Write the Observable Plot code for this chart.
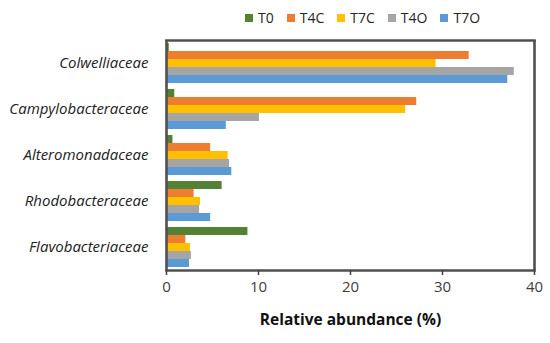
<!DOCTYPE html>
<html>
<head>
<meta charset="utf-8">
<script src="https://cdn.jsdelivr.net/npm/d3@7"></script>
<script src="https://cdn.jsdelivr.net/npm/@observablehq/plot@0.6"></script>
<style>
  html, body { margin: 0; padding: 0; background: #fff; overflow: hidden; }
  body { width: 550px; height: 343px; font-family: "Open Sans", sans-serif; }
  #legend { display: flex; align-items: center; box-sizing: border-box; height: 30px; padding-top: 5px; padding-left: 245px; gap: 13px; font-size: 14px; color: #262626; }
  #legend .item { display: flex; align-items: center; gap: 5px; }
  #legend .sw { width: 8px; height: 8px; display: inline-block; }
</style>
</head>
<body>
<div id="legend"></div>
<div id="chart"></div>
<script>
const families = ["Colwelliaceae", "Campylobacteraceae", "Alteromonadaceae", "Rhodobacteraceae", "Flavobacteriaceae"];
const series = ["T0", "T4C", "T7C", "T4O", "T7O"];
const colors = ["#548235", "#ED7D31", "#FFC000", "#A5A5A5", "#5B9BD5"];
const T0  = [0.3, 0.9, 0.7, 6.05, 8.85];
const T4C = [32.9, 27.2, 4.8, 3.0, 2.1];
const T7C = [29.3, 26.0, 6.7, 3.7, 2.6];
const T4O = [37.8, 10.1, 6.85, 3.6, 2.7];
const T7O = [37.1, 6.5, 7.1, 4.8, 2.5];
const xTicks = [0, 10, 20, 30, 40];
const xTitle = "Relative abundance (%)";

const seriesValues = {T0, T4C, T7C, T4O, T7O};
const data = [];
families.forEach((f, i) => series.forEach(s => data.push({family: f, series: s, value: seriesValues[s][i]})));

// Legend (HTML, above the SVG)
const legend = document.getElementById("legend");
series.forEach((s, i) => {
  const it = document.createElement("div");
  it.className = "item";
  const sw = document.createElement("span");
  sw.className = "sw";
  sw.style.background = colors[i];
  const t = document.createElement("span");
  t.textContent = s;
  it.appendChild(sw); it.appendChild(t);
  legend.appendChild(it);
});

const frameColor = "#505050";
const frameWidth = 2.6;
const chart = Plot.plot({
  width: 550,
  height: 313,
  marginTop: 9,
  marginBottom: 72,
  marginLeft: 166,
  marginRight: 16,
  style: {fontFamily: "Open Sans, sans-serif", background: "#fff", display: "block"},
  x: {domain: [0, 40], ticks: xTicks, label: null},
  y: {domain: series, axis: null, paddingInner: 0, paddingOuter: 0.25},
  fy: {domain: families, padding: 0, axis: null, label: null},
  color: {domain: series, range: colors},
  marks: [
    Plot.barX(data, {x: "value", y: "series", fy: "family", fill: "series"}),
    Plot.text(families, {fy: d => d, text: d => d, frameAnchor: "left", textAnchor: "end", dx: -18, fontStyle: "italic", fontSize: 15, fill: "#222"}),
    Plot.ruleX([0, 40], {stroke: frameColor, strokeWidth: frameWidth}),
    Plot.frame({anchor: "top", facetAnchor: "top", stroke: frameColor, strokeWidth: frameWidth}),
    Plot.frame({anchor: "bottom", facetAnchor: "bottom", stroke: frameColor, strokeWidth: frameWidth}),
    Plot.axisX({anchor: "bottom", ticks: xTicks, tickSize: 5, tickPadding: 6, fontSize: 15, color: "#404040", strokeWidth: 1.5, label: null}),
    Plot.text([{fy: families[families.length - 1], t: xTitle}], {fy: "fy", text: "t", frameAnchor: "bottom", dy: 54, fontWeight: "bold", fontSize: 15.5, fill: "#111"})
  ]
});
document.getElementById("chart").appendChild(chart);
</script>
</body>
</html>
